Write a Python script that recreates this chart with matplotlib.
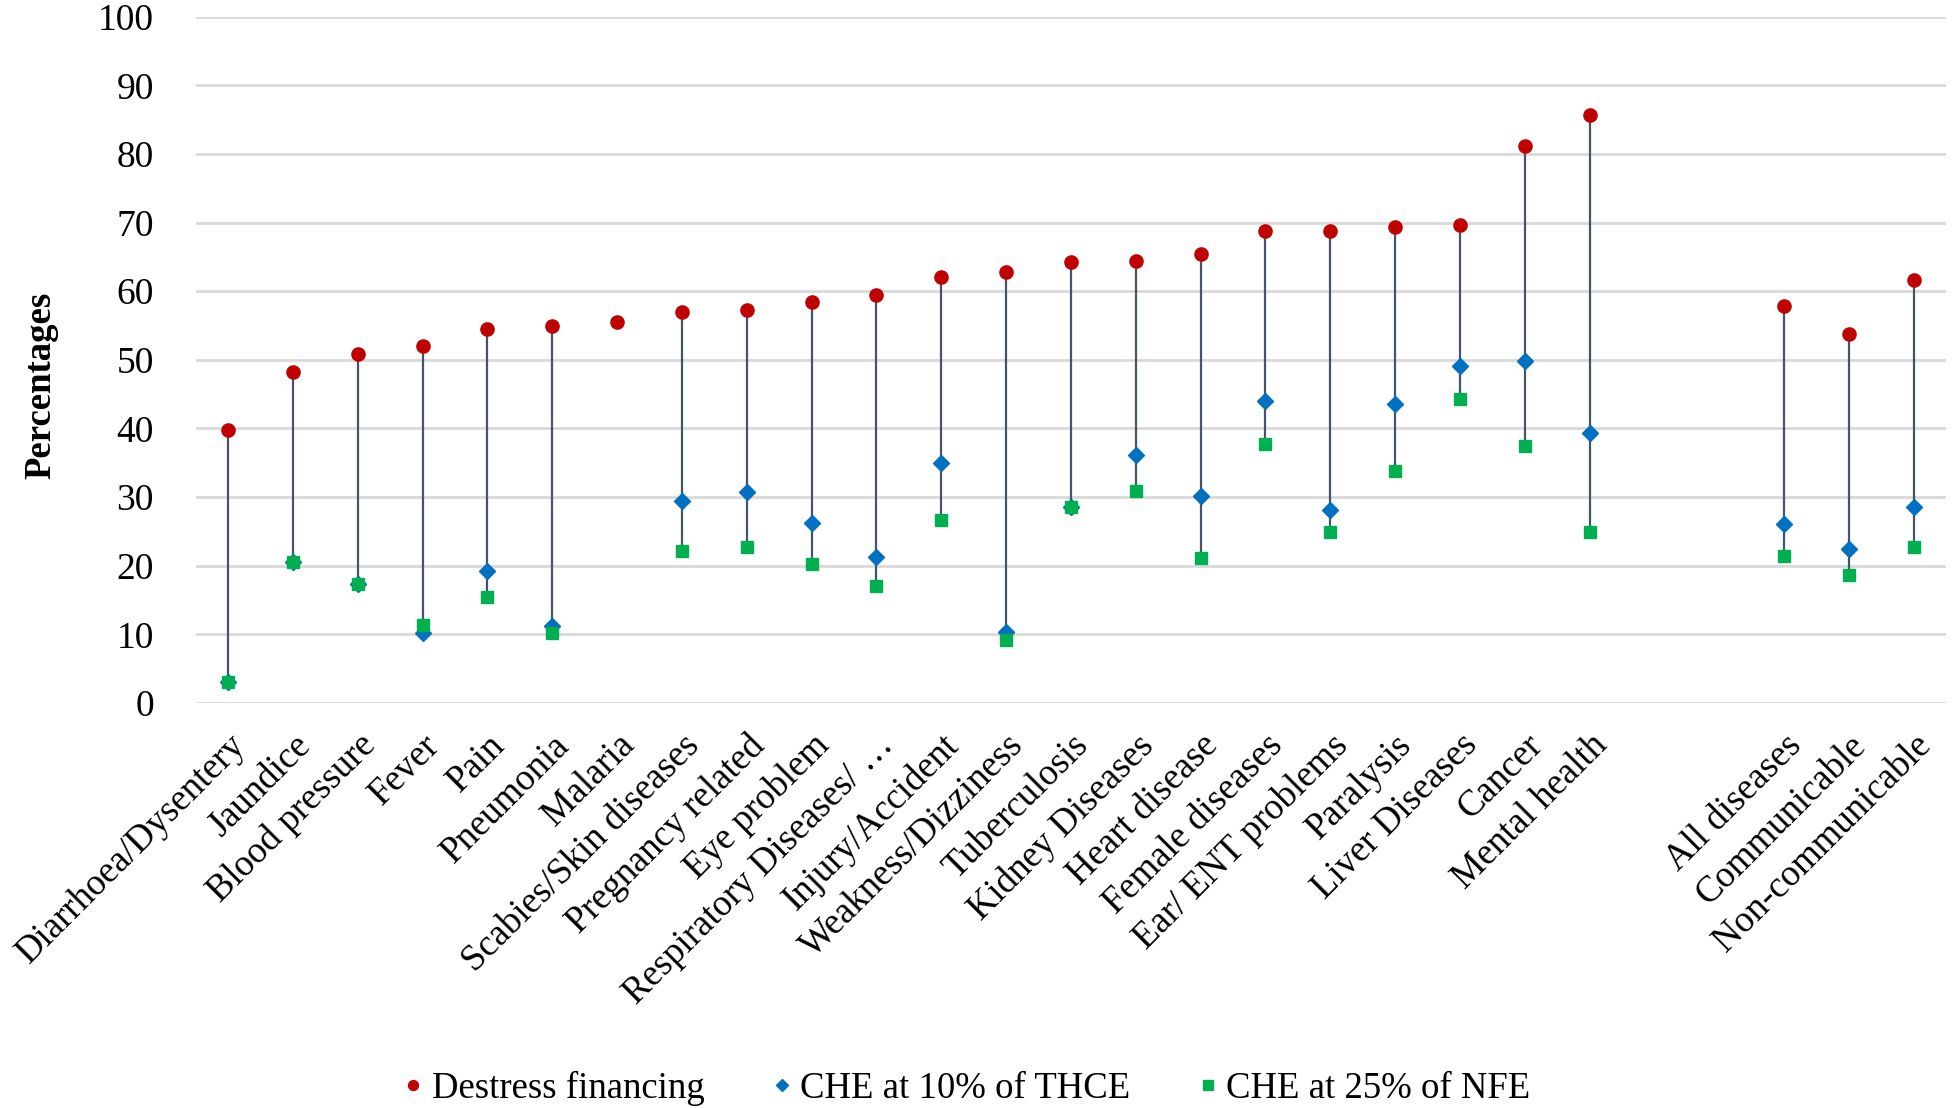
import matplotlib
matplotlib.use("Agg")
import matplotlib.pyplot as plt
import numpy as np

categories = ["Diarrhoea/Dysentery", "Jaundice", "Blood pressure", "Fever", "Pain",
              "Pneumonia", "Malaria", "Scabies/Skin diseases", "Pregnancy related",
              "Eye problem", "Respiratory Diseases/ \u2026", "Injury/Accident",
              "Weakness/Dizziness", "Tuberculosis", "Kidney Diseases", "Heart disease",
              "Female diseases", "Ear/ ENT problems", "Paralysis", "Liver Diseases",
              "Cancer", "Mental health", "", "",
              "All diseases", "Communicable", "Non-communicable"]

destress = [39.8, 48.2, 50.8, 52.0, 54.5, 54.9, 55.5, 56.9, 57.3, 58.4, 59.5, 62.0,
            62.8, 64.2, 64.4, 65.4, 68.7, 68.7, 69.3, 69.7, 81.2, 85.7, None, None,
            57.9, 53.8, 61.6]
che10 = [3.1, 20.6, 17.3, 10.2, 19.2, 11.2, None, 29.5, 30.7, 26.3, 21.3, 35.0,
         10.4, 28.6, 36.2, 30.1, 44.0, 28.1, 43.5, 49.1, 49.9, 39.3, None, None,
         26.1, 22.5, 28.5]
che25 = [3.1, 20.6, 17.3, 11.3, 15.5, 10.2, None, 22.2, 22.8, 20.2, 17.0, 26.7,
         9.2, 28.5, 30.9, 21.2, 37.7, 24.9, 33.8, 44.3, 37.4, 24.9, None, None,
         21.4, 18.6, 22.8]

yticks = list(range(0, 101, 10))

plt.rcParams['font.family'] = ['Liberation Serif', 'DejaVu Serif']

def arr(v):
    return np.array([np.nan if x is None else x for x in v], dtype=float)

d = arr(destress); b = arr(che10); g = arr(che25)
x = np.arange(len(categories))

fig = plt.figure(figsize=(19.52, 11.08), dpi=100)
ax = fig.add_axes([0.1002, 0.3655, 0.8968, 0.6195])

ax.set_ylim(0, 100)
ax.set_xlim(-0.5, len(categories) - 0.5)
ax.set_yticks(yticks)
ax.yaxis.grid(True, color='#D9D9D9', linewidth=2.0)
ax.set_axisbelow(True)
for s in ax.spines.values():
    s.set_visible(False)

# high-low lines
for xi in x:
    vals = [v for v in (d[xi], b[xi], g[xi]) if not np.isnan(v)]
    if len(vals) >= 2:
        ax.vlines(xi, min(vals), max(vals), color='#44546A', linewidth=1.6, zorder=2)

ax.plot(x, d, linestyle='none', marker='o', markersize=9.5, color='#C00000',
        label='Destress financing', zorder=3)
ax.plot(x, b, linestyle='none', marker='D', markersize=8, color='#0070C0',
        label='CHE at 10% of THCE', zorder=4)
ax.plot(x, g, linestyle='none', marker='s', markersize=9, color='#00B050',
        label='CHE at 25% of NFE', zorder=5)

ax.set_xticks(x)
ax.set_xticklabels(categories, rotation=45, ha='right', rotation_mode='anchor',
                   fontsize=26.5)
ax.tick_params(axis='x', length=0, pad=18)
ax.tick_params(axis='y', length=0, pad=30, labelsize=27)

fig.text(0.021, 0.652, 'Percentages', rotation=90, fontsize=26.5, fontweight='bold',
         ha='center', va='center')

leg = fig.legend(loc='lower center', bbox_to_anchor=(0.494, -0.028), ncol=3,
                 frameon=False, fontsize=26.5, handletextpad=0.1, columnspacing=1.7,
                 markerscale=0.75, handlelength=0.8)

fig.savefig('out.png', dpi=100)
